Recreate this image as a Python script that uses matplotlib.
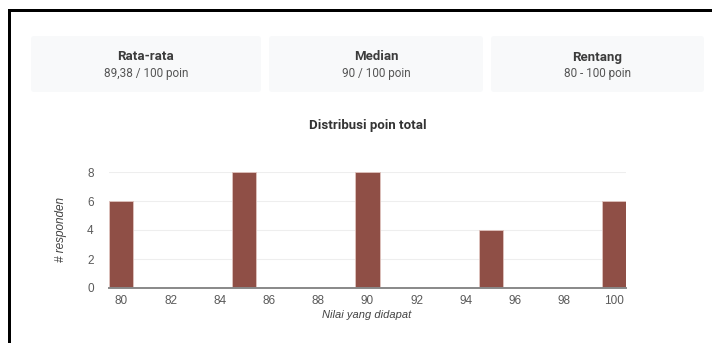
import matplotlib.pyplot as plt
from matplotlib.patches import FancyBboxPatch, Rectangle

# summary cards
card_titles = ['Rata-rata', 'Median', 'Rentang']
card_values = ['89,38 / 100 poin', '90 / 100 poin', '80 - 100 poin']

# histogram of total points
scores = [80, 85, 90, 95, 100]
counts = [6, 8, 8, 4, 6]
x_ticks = [80, 82, 84, 86, 88, 90, 92, 94, 96, 98, 100]
y_ticks = [0, 2, 4, 6, 8]

W, H = 712, 343
fig = plt.figure(figsize=(W / 100, H / 100), dpi=100)
fig.patch.set_facecolor('white')

# page layer in pixel coordinates
bg = fig.add_axes([0, 0, 1, 1])
bg.set_xlim(0, W)
bg.set_ylim(H, 0)
bg.axis('off')

# black frame on top and left
bg.add_patch(Rectangle((8, 9), W - 8, 3, color='black', lw=0))
bg.add_patch(Rectangle((8, 9), 3, H - 9, color='black', lw=0))

cards = [(31, 261), (269, 483), (491, 704)]
for (x0, x1), t, v in zip(cards, card_titles, card_values):
    bg.add_patch(FancyBboxPatch((x0, 36), x1 - x0, 56,
                                boxstyle='round,pad=0,rounding_size=3',
                                fc='#f8f9fa', ec='none'))
    cx = (x0 + x1) / 2
    bg.text(cx, 57, t, ha='center', va='center', fontsize=9.5,
            fontweight='bold', family='Roboto', color='#3c3c3c')
    bg.text(cx, 74, v, ha='center', va='center', fontsize=8.5,
            family='Roboto', color='#555555')

bg.text(368, 126, 'Distribusi poin total', ha='center', va='center',
        fontsize=9.5, fontweight='bold', family='Roboto', color='#333333')

# chart
ax = fig.add_axes([109 / W, (H - 288) / H, (626 - 109) / W, (288 - 172) / H])
ax.bar(scores, counts, width=0.98, color='#8f4f46', edgecolor='#e0c4bf',
       linewidth=0.6, zorder=3)
ax.set_xlim(79.5, 100.5)
ax.set_ylim(0, 8)
ax.set_xticks(x_ticks)
ax.set_yticks(y_ticks)
ax.grid(axis='y', color='#eeeeee', lw=0.8, zorder=0)
for s in ['top', 'right', 'left']:
    ax.spines[s].set_visible(False)
ax.spines['bottom'].set_color('#888888')
ax.spines['bottom'].set_linewidth(1.4)
ax.spines['bottom'].set_zorder(4)
ax.tick_params(length=0, labelsize=8.5, labelcolor='#5a5a5a')
ax.tick_params(axis='y', pad=11)
ax.tick_params(axis='x', pad=5)
for lab in ax.get_xticklabels() + ax.get_yticklabels():
    lab.set_family('Liberation Sans')

bg.text(367, 315, 'Nilai yang didapat', ha='center', va='center',
        fontsize=8, style='italic', family='Liberation Sans', color='#444444')
bg.text(61, 229, '# responden', ha='center', va='center', rotation=90,
        fontsize=8.5, style='italic', family='Liberation Sans', color='#444444')

fig.savefig('out.png', dpi=100)
